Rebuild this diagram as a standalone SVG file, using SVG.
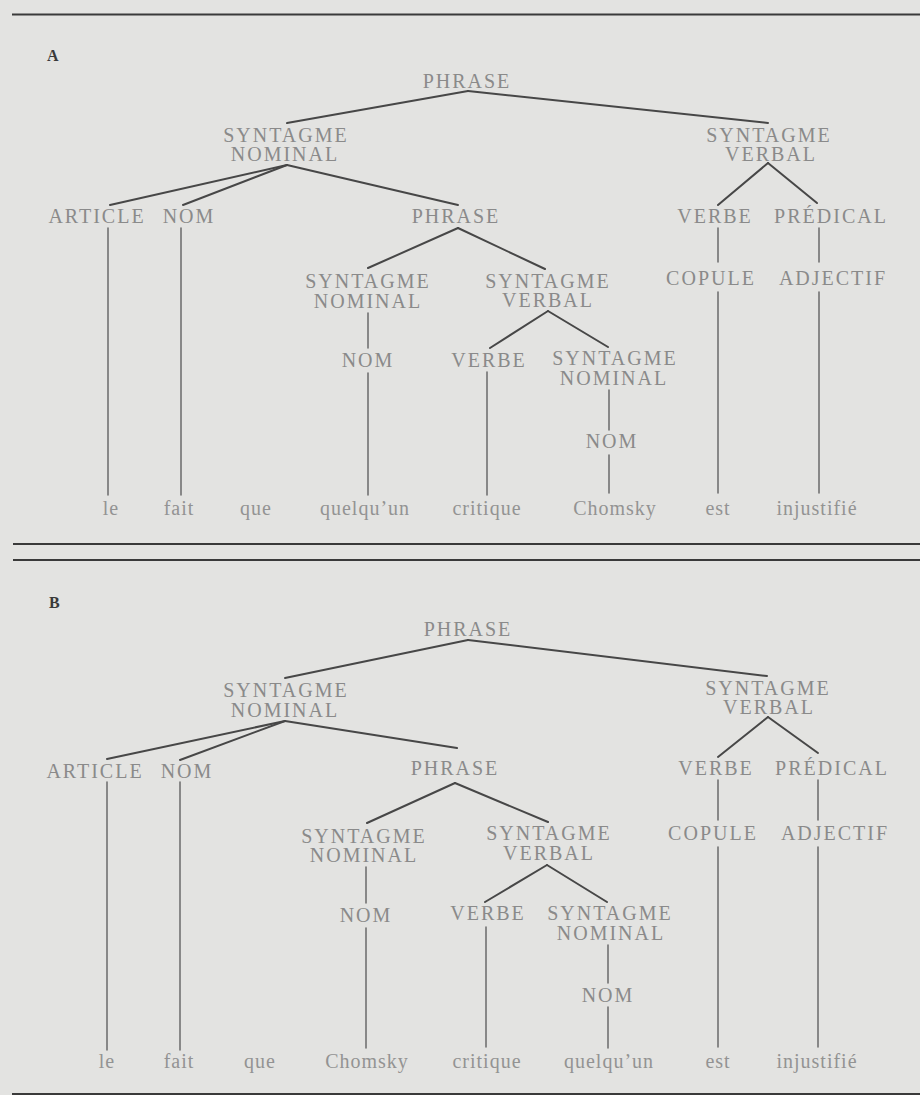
<svg xmlns="http://www.w3.org/2000/svg" width="920" height="1095" viewBox="0 0 920 1095">
<style>
.bg{fill:#e3e3e1}
.rule{stroke:#3a3a3a;stroke-width:2;fill:none}
.n{font-family:"Liberation Serif",serif;font-size:20px;letter-spacing:2px;fill:#8a8a8a;text-anchor:middle}
.w{font-family:"Liberation Serif",serif;font-size:20px;letter-spacing:1px;fill:#939393;text-anchor:middle}
.lab{font-family:"Liberation Serif",serif;font-size:16px;font-weight:bold;fill:#3a3a3a}
.c line{stroke:#474747;stroke-width:2;stroke-linecap:round}
.c line.v{stroke:#6a6a6a;stroke-width:1.5}
</style>
<rect class="bg" x="0" y="0" width="920" height="1095"/>
<g id="rules">
<line class="rule" x1="12" y1="14.5" x2="920" y2="14.5"/>
<line class="rule" x1="13" y1="544" x2="920" y2="544"/>
<line class="rule" x1="13" y1="560" x2="920" y2="560"/>
<line class="rule" x1="12" y1="1094" x2="920" y2="1094"/>
</g>

<g id="connectors-A" class="c">
<line x1="468" y1="91" x2="287" y2="123"/>
<line x1="468" y1="91" x2="768" y2="123"/>
<line x1="287" y1="165" x2="110" y2="205"/>
<line x1="287" y1="165" x2="183" y2="205"/>
<line x1="287" y1="165" x2="458" y2="205"/>
<line x1="768" y1="163" x2="718" y2="205"/>
<line x1="768" y1="163" x2="817" y2="203"/>
<line class="v" x1="108" y1="228" x2="108" y2="495"/>
<line class="v" x1="181" y1="228" x2="181" y2="495"/>
<line x1="458" y1="228" x2="368" y2="268"/>
<line x1="458" y1="228" x2="545" y2="269"/>
<line class="v" x1="368" y1="313" x2="368" y2="348"/>
<line class="v" x1="368" y1="373" x2="368" y2="495"/>
<line x1="548" y1="311" x2="490" y2="348"/>
<line x1="548" y1="311" x2="608" y2="347"/>
<line class="v" x1="487" y1="372" x2="487" y2="495"/>
<line class="v" x1="609" y1="390" x2="609" y2="430"/>
<line class="v" x1="609" y1="455" x2="609" y2="493"/>
<line class="v" x1="718" y1="228" x2="718" y2="262"/>
<line class="v" x1="718" y1="292" x2="718" y2="493"/>
<line class="v" x1="819" y1="228" x2="819" y2="262"/>
<line class="v" x1="819" y1="292" x2="819" y2="493"/>
</g>

<g id="connectors-B" class="c">
<line x1="468" y1="640" x2="285" y2="678"/>
<line x1="468" y1="640" x2="767" y2="676"/>
<line x1="285" y1="721" x2="107" y2="759"/>
<line x1="285" y1="721" x2="180" y2="760"/>
<line x1="285" y1="721" x2="457" y2="748"/>
<line x1="768" y1="717" x2="718" y2="757"/>
<line x1="768" y1="717" x2="818" y2="753"/>
<line class="v" x1="107" y1="782" x2="107" y2="1050"/>
<line class="v" x1="180" y1="782" x2="180" y2="1050"/>
<line x1="455" y1="783" x2="367" y2="823"/>
<line x1="455" y1="783" x2="548" y2="822"/>
<line class="v" x1="366" y1="867" x2="366" y2="903"/>
<line class="v" x1="366" y1="928" x2="366" y2="1048"/>
<line x1="547" y1="865" x2="485" y2="902"/>
<line x1="547" y1="865" x2="607" y2="902"/>
<line class="v" x1="486" y1="927" x2="486" y2="1047"/>
<line class="v" x1="608" y1="945" x2="608" y2="983"/>
<line class="v" x1="608" y1="1007" x2="608" y2="1048"/>
<line class="v" x1="718" y1="780" x2="718" y2="820"/>
<line class="v" x1="718" y1="847" x2="718" y2="1047"/>
<line class="v" x1="818" y1="780" x2="818" y2="820"/>
<line class="v" x1="818" y1="847" x2="818" y2="1047"/>
</g>

<g id="panel-A">
<text class="lab" x="47" y="61">A</text>
<g id="A-phrase"><text class="n" x="467" y="88">PHRASE</text></g>
<g id="A-sn"><text class="n" x="286" y="142">SYNTAGME<tspan x="285" dy="19">NOMINAL</tspan></text></g>
<g id="A-sv"><text class="n" x="769" y="142">SYNTAGME<tspan x="771" dy="19">VERBAL</tspan></text></g>
<g id="A-article"><text class="n" x="97" y="223">ARTICLE</text></g>
<g id="A-nom"><text class="n" x="189" y="223">NOM</text></g>
<g id="A-phrase2"><text class="n" x="456" y="223">PHRASE</text></g>
<g id="A-verbe"><text class="n" x="715" y="223">VERBE</text></g>
<g id="A-predical"><text class="n" x="831" y="223">PRÉDICAL</text></g>
<g id="A-sn2"><text class="n" x="368" y="288">SYNTAGME<tspan x="368" dy="20">NOMINAL</tspan></text></g>
<g id="A-sv2"><text class="n" x="548" y="288">SYNTAGME<tspan x="548" dy="19">VERBAL</tspan></text></g>
<g id="A-copule"><text class="n" x="711" y="285">COPULE</text></g>
<g id="A-adjectif"><text class="n" x="833" y="285">ADJECTIF</text></g>
<g id="A-nom2"><text class="n" x="368" y="367">NOM</text></g>
<g id="A-verbe2"><text class="n" x="489" y="367">VERBE</text></g>
<g id="A-sn3"><text class="n" x="615" y="365">SYNTAGME<tspan x="614" dy="20">NOMINAL</tspan></text></g>
<g id="A-nom3"><text class="n" x="612" y="448">NOM</text></g>
<g id="A-words">
<text class="w" x="111" y="515">le</text>
<text class="w" x="179" y="515">fait</text>
<text class="w" x="256" y="515">que</text>
<text class="w" x="365" y="515">quelqu’un</text>
<text class="w" x="487" y="515">critique</text>
<text class="w" x="615" y="515">Chomsky</text>
<text class="w" x="718" y="515">est</text>
<text class="w" x="817" y="515">injustifié</text>
</g>
</g>

<g id="panel-B">
<text class="lab" x="49" y="608">B</text>
<g id="B-phrase"><text class="n" x="468" y="636">PHRASE</text></g>
<g id="B-sn"><text class="n" x="286" y="697">SYNTAGME<tspan x="285" dy="20">NOMINAL</tspan></text></g>
<g id="B-sv"><text class="n" x="768" y="695">SYNTAGME<tspan x="769" dy="19">VERBAL</tspan></text></g>
<g id="B-article"><text class="n" x="95" y="778">ARTICLE</text></g>
<g id="B-nom"><text class="n" x="187" y="778">NOM</text></g>
<g id="B-phrase2"><text class="n" x="455" y="775">PHRASE</text></g>
<g id="B-verbe"><text class="n" x="716" y="775">VERBE</text></g>
<g id="B-predical"><text class="n" x="832" y="775">PRÉDICAL</text></g>
<g id="B-sn2"><text class="n" x="364" y="843">SYNTAGME<tspan x="364" dy="19">NOMINAL</tspan></text></g>
<g id="B-sv2"><text class="n" x="549" y="840">SYNTAGME<tspan x="549" dy="20">VERBAL</tspan></text></g>
<g id="B-copule"><text class="n" x="713" y="840">COPULE</text></g>
<g id="B-adjectif"><text class="n" x="835" y="840">ADJECTIF</text></g>
<g id="B-nom2"><text class="n" x="366" y="922">NOM</text></g>
<g id="B-verbe2"><text class="n" x="488" y="920">VERBE</text></g>
<g id="B-sn3"><text class="n" x="610" y="920">SYNTAGME<tspan x="611" dy="20">NOMINAL</tspan></text></g>
<g id="B-nom3"><text class="n" x="608" y="1002">NOM</text></g>
<g id="B-words">
<text class="w" x="107" y="1068">le</text>
<text class="w" x="179" y="1068">fait</text>
<text class="w" x="260" y="1068">que</text>
<text class="w" x="367" y="1068">Chomsky</text>
<text class="w" x="487" y="1068">critique</text>
<text class="w" x="609" y="1068">quelqu’un</text>
<text class="w" x="718" y="1068">est</text>
<text class="w" x="817" y="1068">injustifié</text>
</g>
</g>
</svg>
